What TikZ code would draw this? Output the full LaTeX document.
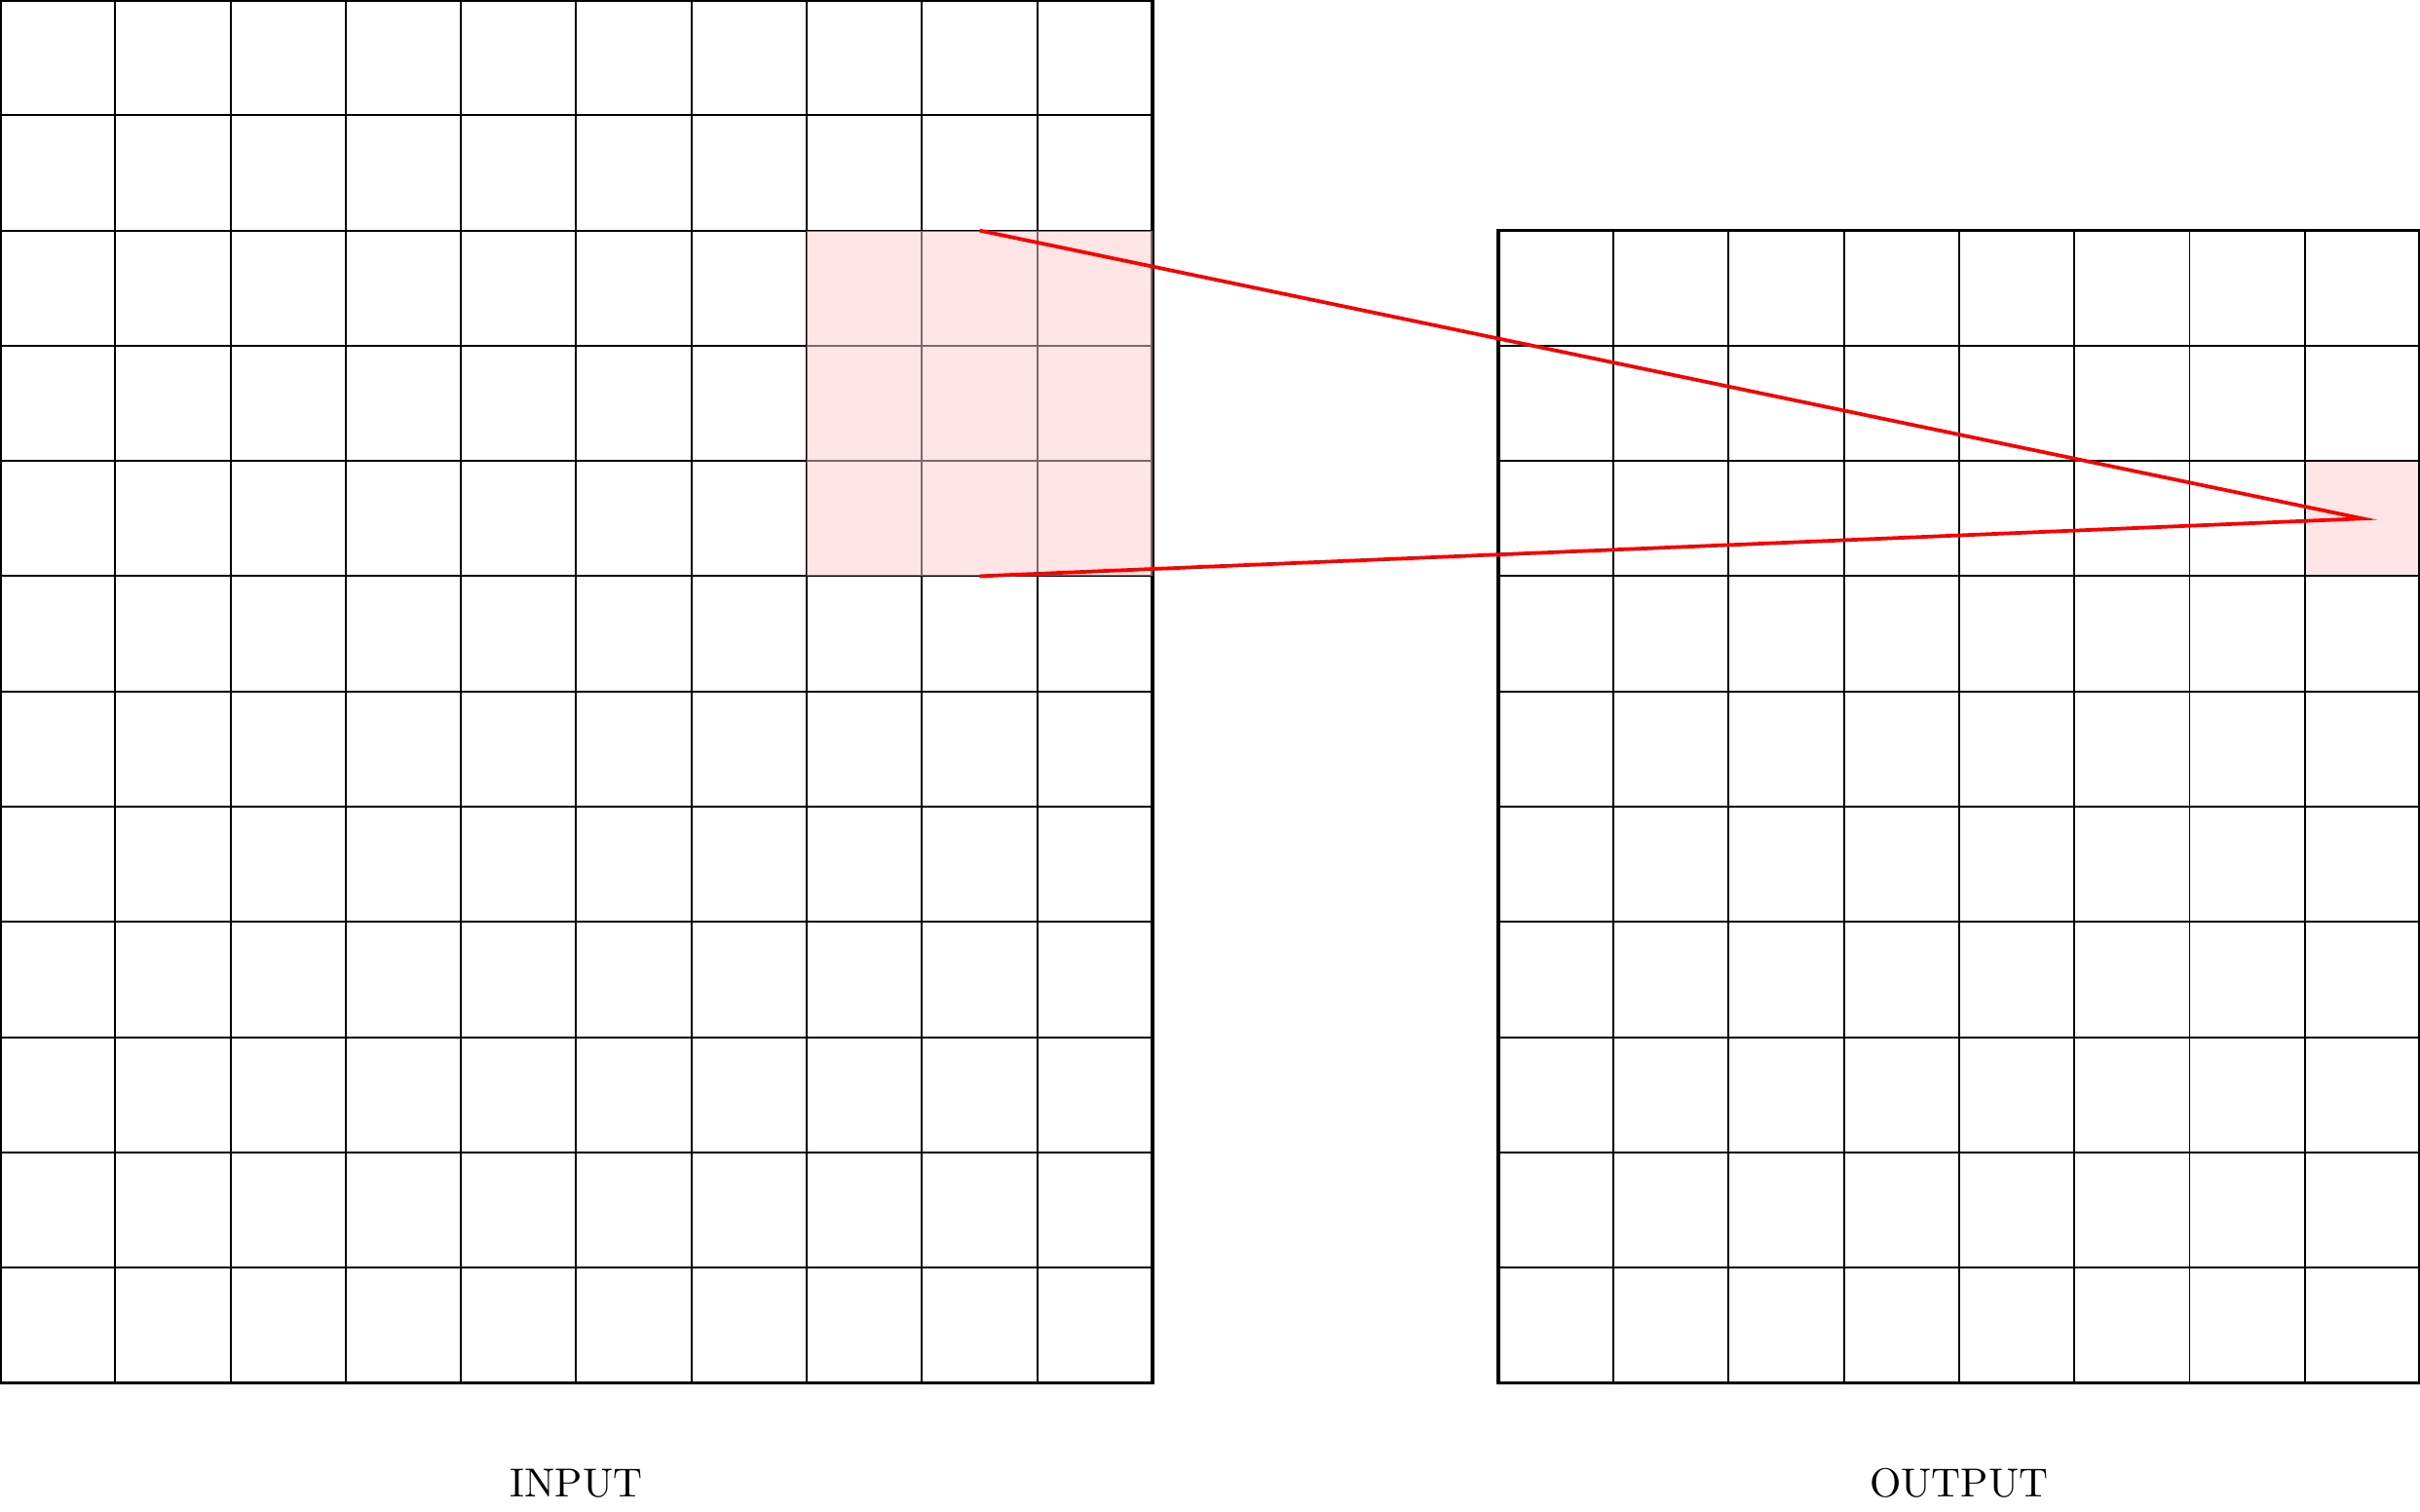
\documentclass[tikz,border=0pt]{standalone}
\begin{document}
\begin{tikzpicture}[
  gridline/.style={black, line width=0.45pt},
  border/.style={black, line width=0.9pt},
  hilite/.style={fill=red!20, fill opacity=0.5},
  hiliteout/.style={fill=red!10},
  link/.style={red, line width=0.9pt},
  lbl/.style={inner sep=0pt}
]
\useasboundingbox (0,-1.113) rectangle (21,12);
% output highlight (under the grid)
\fill[hiliteout] (20,7) rectangle (21,8);
% input grid
\draw[gridline] (0,0) grid (10,12);
\draw[border] (0,0) rectangle (10,12);
% input highlight (over the grid)
\fill[hilite] (7,7) rectangle (10,10);
% output grid
\draw[gridline] (13,0) grid (21,10);
\draw[border] (13,0) rectangle (21,10);
% connectors
\coordinate (a) at (8.5,10);
\coordinate (b) at (8.5,7);
\coordinate (t) at (20.5,7.5);
\draw[link] (a) -- (t) -- (b);
% labels
\node[lbl] (in) at (5,-0.87) {INPUT};
\node[lbl] (out) at (17,-0.87) {OUTPUT};
\end{tikzpicture}
\end{document}
